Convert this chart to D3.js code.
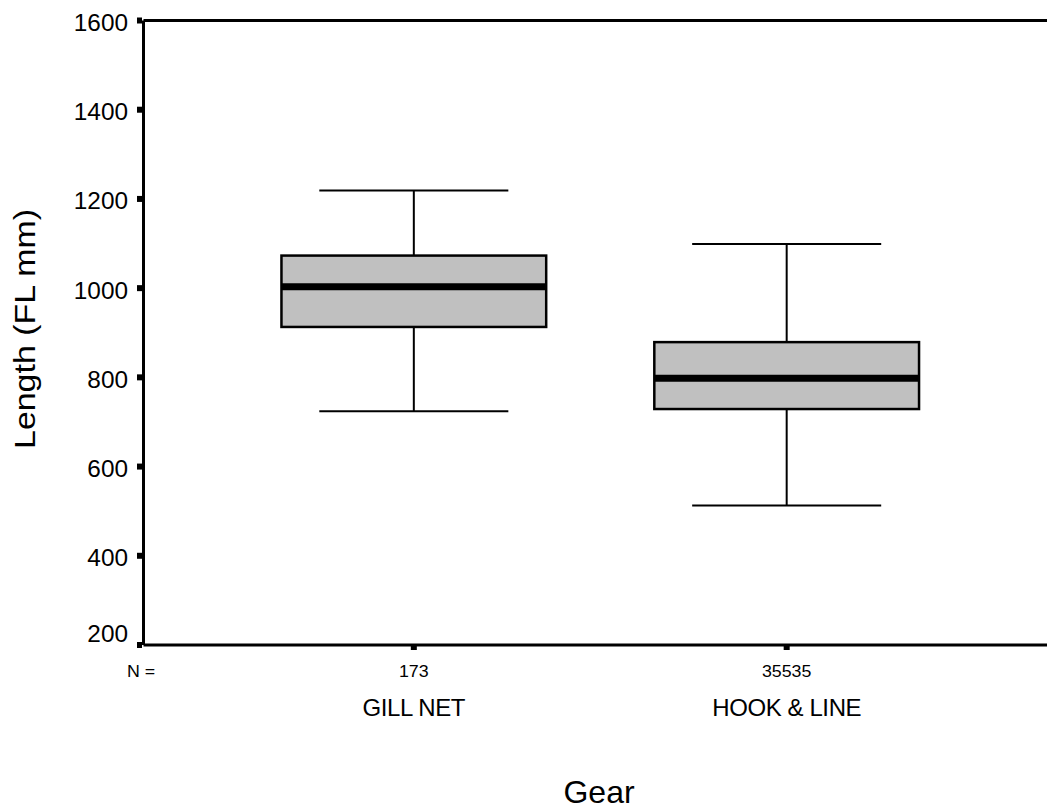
<!DOCTYPE html>
<html><head><meta charset="utf-8">
<script src="https://cdn.jsdelivr.net/npm/d3@7"></script>
<style>body{margin:0;background:#fff;} svg{display:block;font-family:"Liberation Sans",Arial,sans-serif;}</style>
</head><body><svg id="c" width="1047" height="809"></svg>
<script>
const categories = ["GILL NET", "HOOK & LINE"];
const counts = ["173", "35535"];
const whiskerLow = [724, 513];
const q1 = [913, 729];
const median = [1003, 798];
const q3 = [1073, 879];
const whiskerHigh = [1219, 1099];
const yTicks = [200, 400, 600, 800, 1000, 1200, 1400, 1600];

(function () {
const svg = d3.select("#c");
const pLeft = 143.5, pTop = 20.5, pBottom = 645, pRight = 1057;
const y = d3.scaleLinear().domain([200, 1600]).range([pBottom, pTop]);
const x = d3.scalePoint().domain(categories).range([pLeft, pRight]).padding(0.725);
const step = x.step();
const boxW = step * 0.71, capW = step * 0.507;

function stext(parent, tx, ty, sx, size, anchor, str, rot) {
  const t = parent.append("g").attr("transform", `translate(${tx},${ty})` + (rot ? ` rotate(${rot})` : "") + ` scale(${sx},1)`);
  t.append("text").attr("x", 0).attr("y", 0).attr("text-anchor", anchor).attr("font-size", size).attr("fill", "#000").text(str);
  return t;
}

// frame lines
svg.append("line").attr("x1", pLeft).attr("x2", 1047).attr("y1", pTop).attr("y2", pTop).attr("stroke", "#000").attr("stroke-width", 3);
svg.append("line").attr("x1", pLeft).attr("x2", 1047).attr("y1", pBottom).attr("y2", pBottom).attr("stroke", "#000").attr("stroke-width", 3);
svg.append("line").attr("x1", pLeft).attr("x2", pLeft).attr("y1", pTop).attr("y2", pBottom).attr("stroke", "#000").attr("stroke-width", 3);

// y ticks
const yg = svg.append("g");
yg.selectAll("rect").data(yTicks).join("rect")
  .attr("x", pLeft - 6.5).attr("y", d => y(d) - 3).attr("width", 5).attr("height", 6).attr("fill", "#000");
yTicks.forEach(d => stext(yg, 128, d === 200 ? y(d) - 3 : y(d) + 10.5, 1.06, 23, "end", d));

// x ticks
svg.selectAll("rect.xt").data(categories).join("rect").attr("class", "xt")
  .attr("x", d => x(d) - 3).attr("y", pBottom).attr("width", 6).attr("height", 5).attr("fill", "#000");

// boxes
const idx = d3.range(categories.length);
const g = svg.append("g");
idx.forEach(i => {
  const cx = x(categories[i]);
  g.append("line").attr("x1", cx).attr("x2", cx).attr("y1", y(whiskerHigh[i])).attr("y2", y(q3[i])).attr("stroke", "#000").attr("stroke-width", 2);
  g.append("line").attr("x1", cx).attr("x2", cx).attr("y1", y(q1[i])).attr("y2", y(whiskerLow[i])).attr("stroke", "#000").attr("stroke-width", 2);
  g.append("line").attr("x1", cx - capW/2).attr("x2", cx + capW/2).attr("y1", y(whiskerHigh[i])).attr("y2", y(whiskerHigh[i])).attr("stroke", "#000").attr("stroke-width", 2);
  g.append("line").attr("x1", cx - capW/2).attr("x2", cx + capW/2).attr("y1", y(whiskerLow[i])).attr("y2", y(whiskerLow[i])).attr("stroke", "#000").attr("stroke-width", 2);
  g.append("rect").attr("x", cx - boxW/2).attr("y", y(q3[i])).attr("width", boxW).attr("height", y(q1[i]) - y(q3[i]))
    .attr("fill", "#c0c0c0").attr("stroke", "#000").attr("stroke-width", 2.5);
  g.append("line").attr("x1", cx - boxW/2).attr("x2", cx + boxW/2).attr("y1", y(median[i])).attr("y2", y(median[i])).attr("stroke", "#000").attr("stroke-width", 7);
  stext(svg, cx, 677, 1.08, 16.5, "middle", counts[i]);
  stext(svg, cx, 716, 1.0, 24, "middle", categories[i]).select("text").attr("letter-spacing", -0.4);
});

stext(svg, 127, 677, 1.08, 16.5, "start", "N =");
stext(svg, 599, 803, 1.0, 32, "middle", "Gear");
stext(svg, 35, 329, 1.17, 29, "middle", "Length (FL mm)", -90);
})();
</script></body></html>
